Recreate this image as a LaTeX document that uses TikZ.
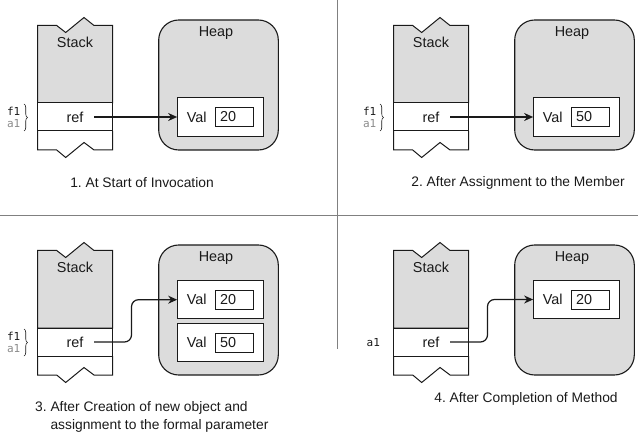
\documentclass[tikz,border=0pt]{standalone}
\usepackage{fontspec}
\setmainfont{Liberation Sans}
\setmonofont{DejaVu Sans Mono}
\usetikzlibrary{arrows.meta,decorations.pathreplacing}
\definecolor{boxgray}{HTML}{DCDCDC}
\definecolor{divgray}{HTML}{808080}
\definecolor{labgray}{HTML}{8A8A8A}
\definecolor{ink}{HTML}{1A1A1A}
\tikzset{
  lbl/.style={font=\fontsize{14.4}{17}\selectfont, inner sep=0pt, text=ink},
  mono/.style={font=\ttfamily\fontsize{11}{13}\selectfont, inner sep=0pt},
  stackline/.style={draw=ink, line width=1pt},
  refrow/.style={stackline, fill=white, rectangle, minimum width=75pt, minimum height=28pt, inner sep=0pt,
                 font=\fontsize{14.4}{17}\selectfont, text=ink},
  heapbox/.style={draw=ink, line width=1.1pt, fill=boxgray, rectangle, rounded corners=20pt,
                  minimum width=119.6pt, minimum height=130pt, inner sep=0pt},
  valout/.style={draw=ink, line width=1.1pt, fill=white, rectangle, minimum width=85.6pt,
                 minimum height=38.4pt, inner sep=0pt},
  valin/.style={draw=ink, line width=1pt, fill=white, rectangle, minimum height=19pt,
                text width=29pt, align=left, inner xsep=4.3pt, inner ysep=0pt,
                font=\fontsize{14.4}{17}\selectfont, text=ink},
  conn/.style={draw=ink, line width=1.2pt, -{Stealth[length=9pt,width=8pt]}},
  divider/.style={draw=divgray, line width=1pt},
  bracestyle/.style={draw=ink, line width=0.6pt, decorate, decoration={brace, amplitude=3.5pt}},
  caption/.style={font=\frenchspacing\fontsize{13.8}{18.3}\selectfont, inner sep=0pt, text=ink}
}
\newcommand\drawstackheap[3]{%
  \begin{scope}[shift={(#2,#3)}]
    \draw[stackline, fill=boxgray] (37.5,25.5) -- (56.7,25.5) -- (65.7,32.5) -- (84,17.5) -- (94,25.5)
      -- (112.5,25.5) -- (112.5,103) -- (37.5,103) -- cycle;
    \node[lbl] (#1stk) at (75,42) {Stack};
    \node[refrow] (#1ref) at (75,117) {ref};
    \draw[stackline] (37.5,131) -- (37.5,150) -- (56.7,150) -- (65.7,157.5) -- (84,142.5) -- (94,150)
      -- (112.5,150) -- (112.5,131);
    \node[heapbox] (#1heap) at (218.5,85) {};
    \node[lbl] (#1heaplbl) at (216,33) {Heap};
  \end{scope}}
\newcommand\drawval[4]{%
  \node[valout] (#1) at (#2,#3) {};
  \node[lbl] (#1txt) at ([xshift=-23.8pt]#1.center) {Val};
  \node[valin] (#1num) at ([xshift=14pt]#1.center) {#4};}
\begin{document}
\begin{tikzpicture}[x=1pt, y=-1pt]
  \useasboundingbox (0,0) rectangle (638,433);
  % dividers
  \draw[divider] (0,215.3) -- (638,215.3);
  \draw[divider] (337.3,0) -- (337.3,349);

  % ---------- panel 1
  \drawstackheap{pa}{0}{0}
  \drawval{pav}{220.5}{117}{20}
  \draw[conn] ([xshift=19pt]paref.center) -- (pav.west);
  \draw[bracestyle] (24,104) -- (24,131);
  \node[mono, anchor=east, text=ink] (paf) at (20.5,111.5) {f1};
  \node[mono, anchor=east, text=labgray] (paa) at (20.5,124) {a1};
  \node[caption] (pacap) at (142,182.7) {1. At Start of Invocation};

  % ---------- panel 2
  \drawstackheap{pb}{356}{0}
  \drawval{pbv}{576.5}{117}{50}
  \draw[conn] ([xshift=19pt]pbref.center) -- (pbv.west);
  \draw[bracestyle] (380,104) -- (380,131);
  \node[mono, anchor=east, text=ink] (pbf) at (376.5,111.5) {f1};
  \node[mono, anchor=east, text=labgray] (pba) at (376.5,124) {a1};
  \node[caption] (pbcap) at (518,182.7) {2. After Assignment to the Member};

  % ---------- panel 3
  \drawstackheap{pc}{0}{225}
  \drawval{pcv}{220.5}{299.7}{20}
  \drawval{pcw}{220.5}{342.5}{50}
  \draw[conn, rounded corners=7pt] ([xshift=19pt]pcref.center) -- ++(37.5,0) |- (pcv.west);
  \draw[bracestyle] (24,329) -- (24,356);
  \node[mono, anchor=east, text=ink] (pcf) at (20.5,336.5) {f1};
  \node[mono, anchor=east, text=labgray] (pca) at (20.5,349) {a1};
  \node[caption, anchor=west, align=left] (pccap) at (35,417) {3. After Creation of new object and\\\phantom{3.\ }assignment to the formal parameter};

  % ---------- panel 4
  \drawstackheap{pd}{356}{225}
  \drawval{pdv}{576.5}{299.5}{20}
  \draw[conn, rounded corners=7pt] ([xshift=19pt]pdref.center) -- ++(37.5,0) |- (pdv.west);
  \node[mono, anchor=center, text=ink] (pda) at (373.3,342.7) {a1};
  \node[caption] (pdcap) at (526,398.7) {4. After Completion of Method};
\end{tikzpicture}
\end{document}
